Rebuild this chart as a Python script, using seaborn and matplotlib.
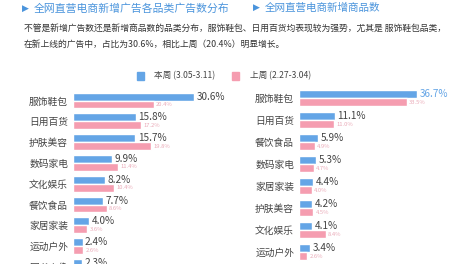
import matplotlib
matplotlib.use("Agg")
import matplotlib.pyplot as plt
import seaborn as sns
import pandas as pd
from matplotlib.patches import Rectangle

sns.set_theme(style="white")
plt.rcParams['font.family'] = ['Noto Sans CJK SC', 'DejaVu Sans']

# ---- data ----
left_cats = ["服饰鞋包", "日用百货", "护肤美容", "数码家电", "文化娱乐", "餐饮食品", "家居家装", "运动户外", "图书音像"]
left_this = [30.6, 15.8, 15.7, 9.9, 8.2, 7.7, 4.0, 2.4, 2.3]
left_last = [20.4, 17.2, 19.8, 11.4, 10.4, 8.6, 3.6, 2.6, 2.0]

right_cats = ["服饰鞋包", "日用百货", "餐饮食品", "数码家电", "家居家装", "护肤美容", "文化娱乐", "运动户外"]
right_this = [36.7, 11.1, 5.9, 5.3, 4.4, 4.2, 4.1, 3.4]
right_last = [33.5, 11.0, 4.9, 4.7, 4.0, 4.5, 8.4, 2.6]

series = ["本周 (3.05-3.11)", "上周 (2.27-3.04)"]
title_left = "全网直营电商新增广告各品类广告数分布"
title_right = "全网直营电商新增商品数"
para1 = "不管是新增广告数还是新增商品数的品类分布，服饰鞋包、日用百货均表现较为强势，尤其是 服饰鞋包品类，"
para2 = "在新上线的广告中，占比为30.6%，相比上周（20.4%）明显增长。"

BLUE = "#64a5e6"
PINK = "#f59db0"
TITLE_C = "#4a94dc"

W, H = 468, 264
fig = plt.figure(figsize=(W / 100, H / 100), dpi=100)


def fx(x):
    return x / W


def fy(y):
    return 1 - y / H


def draw(ax, cats, this, last, xmax, highlight_first):
    df = pd.DataFrame({
        "cat": cats * 2,
        "val": this + last,
        "week": [series[0]] * len(cats) + [series[1]] * len(cats),
    })
    sns.barplot(data=df, y="cat", x="val", hue="week", order=cats,
                hue_order=series, palette=[BLUE, PINK], orient="h",
                width=0.76, ax=ax, legend=False, saturation=1)
    ax.set_xlim(0, xmax)
    ax.set_ylim(len(cats) - 0.5, -0.5)
    for s in ax.spines.values():
        s.set_visible(False)
    ax.set_xticks([])
    ax.set_xlabel("")
    ax.set_ylabel("")
    ax.tick_params(axis="y", length=0, pad=3.5, labelsize=7, labelcolor="#444444")
    blue_c, pink_c = ax.containers[0], ax.containers[1]
    labs = ax.bar_label(blue_c, labels=[f"{v:.1f}%" for v in this], padding=1.8,
                        fontsize=7.2, color="#444444")
    if highlight_first:
        labs[0].set_color(BLUE)
    ax.bar_label(pink_c, labels=[f"{v:.1f}%" for v in last], padding=1.5,
                 fontsize=4.2, color="#eaaab8")


# left axes: top px 90.1, step 20.8, 9 rows
lt, lstep = 90.1, 20.8
axL = fig.add_axes([fx(73), fy(lt + 9 * lstep), fx(3.96 * 40), (9 * lstep) / H])
draw(axL, left_cats, left_this, left_last, 40, False)

# right axes: top px 87, step 22, 8 rows
rt, rstep = 87, 22
axR = fig.add_axes([fx(299), fy(rt + 8 * rstep), fx(3.21 * 50), (8 * rstep) / H])
draw(axR, right_cats, right_this, right_last, 50, True)

# titles
fig.text(fx(22), fy(8.3), "▶", fontsize=6.5, color=TITLE_C, va="center", ha="left",
         family=["DejaVu Sans"])
fig.text(fx(34), fy(8.3), title_left, fontsize=7.8, color=TITLE_C, va="center", ha="left")
fig.text(fx(253), fy(7.5), "▶", fontsize=6.5, color=TITLE_C, va="center", ha="left",
         family=["DejaVu Sans"])
fig.text(fx(265), fy(7.5), title_right, fontsize=7.6, color=TITLE_C, va="center", ha="left")

# paragraph
fig.text(fx(24), fy(29.5), para1, fontsize=6.35, color="#333333", va="center", ha="left")
fig.text(fx(24), fy(44.5), para2, fontsize=6.35, color="#333333", va="center", ha="left")

# legend
fig.add_artist(Rectangle((fx(136.7), fy(79.5)), fx(7.5), 7.5 / H, color=BLUE,
                         transform=fig.transFigure))
fig.text(fx(154), fy(75.5), series[0], fontsize=6.2, color="#444444", va="center", ha="left")
fig.add_artist(Rectangle((fx(232), fy(79.5)), fx(7.5), 7.5 / H, color=PINK,
                         transform=fig.transFigure))
fig.text(fx(250.5), fy(75.5), series[1], fontsize=6.2, color="#444444", va="center", ha="left")

fig.savefig("out.png", dpi=100)
